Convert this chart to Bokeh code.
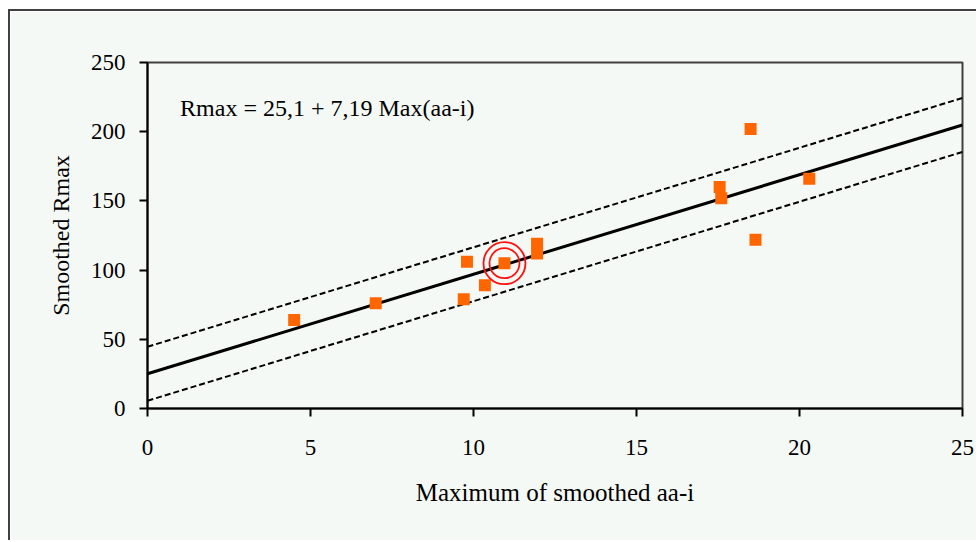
from bokeh.plotting import figure
from bokeh.models import Range1d, Label, FixedTicker, ColumnDataSource
from bokeh.embed import file_html
from bokeh.resources import INLINE

# --- data ---
max_aa = [4.5, 7.0, 9.8, 9.7, 10.35, 10.95, 11.95, 11.95, 17.55, 17.6, 18.5, 18.65, 20.3]
rmax = [64, 76, 106, 79, 89, 105, 119, 112, 160, 152, 202, 122, 166]
highlight_x = [10.95]
highlight_y = [105]
intercept = 25.1
slope = 7.19
band = 19.5
fit_x = [0, 25]
x_ticks = [0, 5, 10, 15, 20, 25]
y_ticks = [0, 50, 100, 150, 200, 250]
equation = "Rmax = 25,1 + 7,19 Max(aa-i)"

fit_y = [intercept + slope * v for v in fit_x]
upper_y = [v + band for v in fit_y]
lower_y = [v - band for v in fit_y]

FONT = "Liberation Serif"
BG = "#f5f9f5"
FRAME = "#404040"

# page layout: chart-area border at x=8, y=9 (2px); figure content starts at (10, 11)
OX, OY = 10, 11
W, H = 968, 531
FL, FR, FT, FB = 147 - OX, 962 - OX, 62 - OY, 408 - OY

p = figure(width=W, height=H, output_backend="svg", toolbar_location=None,
           x_range=Range1d(0, 25), y_range=Range1d(0, 250),
           min_border_left=FL, min_border_right=W - FR,
           min_border_top=FT, min_border_bottom=H - FB)
p.styles = {"margin-left": "8px", "margin-top": "9px",
            "border-left": "2px solid " + FRAME, "border-top": "2px solid " + FRAME}
p.border_fill_color = BG
p.background_fill_color = BG
p.outline_line_color = FRAME
p.outline_line_width = 2
p.xgrid.visible = False
p.ygrid.visible = False

for ax in (p.xaxis[0], p.yaxis[0]):
    ax.axis_line_color = "black"
    ax.axis_line_width = 2
    ax.major_tick_line_color = "black"
    ax.major_tick_line_width = 2
    ax.major_tick_out = 8
    ax.major_tick_in = 0
    ax.minor_tick_line_color = None
    ax.major_label_text_font = FONT
    ax.major_label_text_font_size = "23px"
    ax.major_label_text_color = "black"
    ax.axis_label_text_font = FONT
    ax.axis_label_text_font_size = "24px"
    ax.axis_label_text_font_style = "normal"
    ax.axis_label_text_color = "black"

p.xaxis.ticker = FixedTicker(ticks=x_ticks)
p.yaxis.ticker = FixedTicker(ticks=y_ticks)
p.xaxis.axis_label = "Maximum of smoothed aa-i"
p.yaxis.axis_label = "Smoothed Rmax"
p.xaxis.axis_label_text_font_size = "25px"
p.xaxis.major_label_standoff = 23
p.xaxis.axis_label_standoff = 21
p.yaxis.major_label_standoff = 14
p.yaxis.axis_label_standoff = 14

p.line(fit_x, upper_y, line_color="black", line_width=2, line_dash="6 3")
p.line(fit_x, lower_y, line_color="black", line_width=2, line_dash="6 3")
p.line(fit_x, fit_y, line_color="black", line_width=3)

src = ColumnDataSource(dict(x=max_aa, y=rmax))
p.scatter("x", "y", source=src, marker="square", size=12,
          fill_color="#ff6600", line_color="#ff6600", line_width=0)

p.scatter(highlight_x, highlight_y, marker="circle", size=42, fill_alpha=0,
          line_color="#ff1010", line_width=1.8)
p.scatter(highlight_x, highlight_y, marker="circle", size=30, fill_alpha=0,
          line_color="#ff1010", line_width=1.8)

p.add_layout(Label(x=1.0, y=217, text=equation, text_font=FONT,
                   text_font_size="24px", text_color="black",
                   text_baseline="alphabetic"))

open("out.html", "w").write(file_html(p, INLINE))
